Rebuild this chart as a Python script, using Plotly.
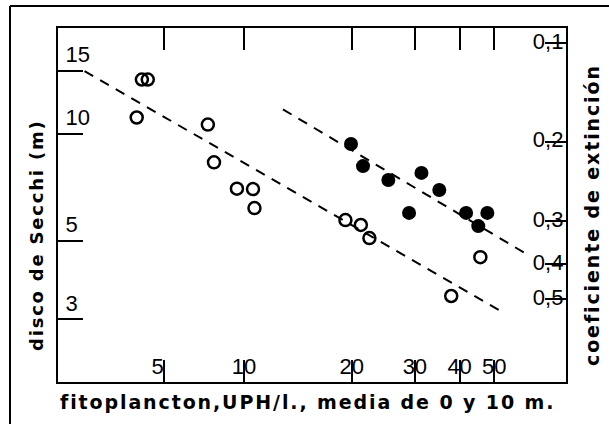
import plotly.graph_objects as go
import math

# ---- data ----
open_x = [5.19, 5.39, 5.02, 7.93, 8.25, 9.56, 10.6, 10.7, 19.2, 21.2, 22.4, 45.7, 37.9]
open_y = [14.2, 14.2, 11.1, 10.6, 8.3, 7.0, 6.98, 6.17, 5.71, 5.53, 5.08, 4.49, 3.49]
filled_x = [19.9, 21.5, 25.3, 31.3, 35.1, 28.9, 41.7, 47.8, 45.1]
filled_y = [9.35, 8.1, 7.4, 7.75, 6.94, 5.98, 5.98, 5.98, 5.49]
lower_line_x = [3.59, 53.7]
lower_line_y = [15.0, 3.11]
upper_line_x = [12.85, 62.2]
upper_line_y = [11.7, 4.55]

x_tick_vals = [5.97, 10, 20, 30, 40, 50]
x_tick_text = ["5\u2007", "10", "20", "30", "40", "50"]
y_tick_vals = [15, 10, 5, 3]
y_tick_text = ["15", "10", "5", "3"]
k_tick_vals = [0.0974, 0.1844, 0.3084, 0.4074, 0.5112]
k_tick_text = ["0,1", "0,2", "0,3", "0,4", "0,5"]

x_title = "fitoplancton,UPH/l., media de 0 y 10 m."
y_title = "disco de Secchi (m)"
y2_title = "coeficiente de extinción"

# ---- layout geometry ----
W, H = 609, 424
L, R, T, B = 58, 566, 28, 382
x_range = [0.481, 1.899]
y_range = [0.3007, 1.2973]
k_const = 1.75
y2_range = [math.log10(k_const) - y_range[0], math.log10(k_const) - y_range[1]]


def px(p):
    return (p - L) / (R - L)


def py(p):
    return (B - p) / (B - T)


def spaced(s, sp):
    return sp.join(list(s))


FONT = "DejaVu Sans"
NUMFONT = "Liberation Sans"

fig = go.Figure()
fig.add_trace(go.Scatter(x=lower_line_x, y=lower_line_y, mode="lines",
                         line=dict(color="black", width=2, dash="10px,8px"),
                         showlegend=False, hoverinfo="skip"))
fig.add_trace(go.Scatter(x=upper_line_x, y=upper_line_y, mode="lines",
                         line=dict(color="black", width=2, dash="10px,8px"),
                         showlegend=False, hoverinfo="skip"))
fig.add_trace(go.Scatter(x=open_x, y=open_y, mode="markers",
                         marker=dict(symbol="circle-open", size=12, color="black",
                                     line=dict(width=2.5, color="black")),
                         showlegend=False))
fig.add_trace(go.Scatter(x=filled_x, y=filled_y, mode="markers",
                         marker=dict(symbol="circle", size=14, color="black"),
                         showlegend=False))
# empty trace so that the right-hand (extinction) axis is drawn
fig.add_trace(go.Scatter(x=[], y=[], yaxis="y2", mode="markers",
                         showlegend=False, hoverinfo="skip"))

fig.update_layout(
    width=W, height=H,
    margin=dict(l=L, r=W - R, t=T, b=H - B),
    paper_bgcolor="white", plot_bgcolor="white",
    showlegend=False,
    xaxis=dict(type="log", range=x_range, tickvals=x_tick_vals, ticktext=x_tick_text,
               ticks="inside", ticklen=22, tickwidth=2, tickcolor="black",
               showline=True, linewidth=2, linecolor="black", mirror="ticks",
               ticklabelposition="inside", ticklabelstandoff=-17,
               showgrid=False, zeroline=False,
               tickfont=dict(family=NUMFONT, size=22, color="black")),
    yaxis=dict(type="log", range=y_range, tickvals=y_tick_vals, ticktext=y_tick_text,
               ticks="inside", ticklen=25, tickwidth=2, tickcolor="black",
               showline=True, linewidth=2, linecolor="black", mirror=True,
               ticklabelposition="inside top", ticklabelstandoff=8,
               showgrid=False, zeroline=False,
               tickfont=dict(family=NUMFONT, size=22, color="black")),
    yaxis2=dict(type="log", range=y2_range, overlaying="y", side="right",
                tickvals=k_tick_vals, ticktext=k_tick_text,
                ticks="inside", ticklen=21, tickwidth=2, tickcolor="black",
                showline=True, linewidth=2, linecolor="black",
                ticklabelposition="inside", ticklabelstandoff=-17, ticklabelshift=2,
                showgrid=False, zeroline=False,
                tickfont=dict(family=NUMFONT, size=22, color="black")),
    annotations=[
        dict(text="<b>" + spaced(x_title, "\u200a") + "</b>", xref="paper", yref="paper",
             x=px(306), y=py(402), xanchor="center", yanchor="middle", showarrow=False,
             font=dict(family=FONT, size=19, color="black")),
        dict(text="<b>" + spaced(y_title, "\u200a") + "</b>", xref="paper", yref="paper",
             x=px(36), y=py(236), xanchor="center", yanchor="middle", showarrow=False,
             textangle=-90, font=dict(family=FONT, size=18, color="black")),
        dict(text="<b>" + spaced(y2_title, "\u200a") + "</b>", xref="paper", yref="paper",
             x=px(592), y=py(216), xanchor="center", yanchor="middle", showarrow=False,
             textangle=-90, font=dict(family=FONT, size=19, color="black")),
    ],
    shapes=[
        dict(type="line", xref="paper", yref="paper", x0=px(10), x1=px(10),
             y0=py(6), y1=py(424), line=dict(color="black", width=2)),
        dict(type="line", xref="paper", yref="paper", x0=px(10), x1=px(609),
             y0=py(6), y1=py(6), line=dict(color="black", width=2)),
    ],
)

fig.write_html("out.html")
